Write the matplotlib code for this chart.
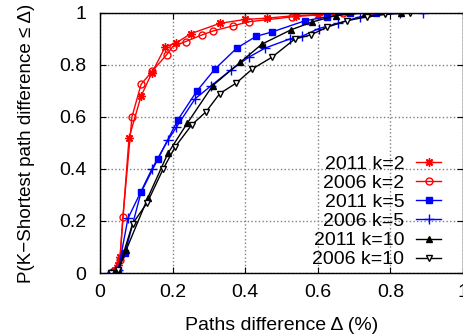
import matplotlib
matplotlib.use("Agg")
import matplotlib.pyplot as plt

plt.rcParams['font.family'] = ['Liberation Sans', 'DejaVu Sans']

# values
k2_2011_x = [0.03, 0.04, 0.05, 0.055, 0.08, 0.113, 0.143, 0.18, 0.21, 0.25, 0.33, 0.40, 0.46, 0.54, 0.60, 0.74]
k2_2011_y = [0.0, 0.01, 0.03, 0.06, 0.52, 0.68, 0.77, 0.87, 0.885, 0.92, 0.96, 0.975, 0.98, 0.99, 0.993, 1.0]

k2_2006_x = [0.03, 0.045, 0.055, 0.063, 0.088, 0.113, 0.143, 0.184, 0.20, 0.236, 0.28, 0.31, 0.365, 0.41, 0.53, 0.67, 0.74]
k2_2006_y = [0.0, 0.01, 0.05, 0.215, 0.60, 0.725, 0.775, 0.84, 0.87, 0.89, 0.915, 0.93, 0.95, 0.966, 0.985, 1.0, 1.0]

k5_2011_x = [0.03, 0.05, 0.069, 0.113, 0.16, 0.215, 0.267, 0.317, 0.377, 0.43, 0.474, 0.565, 0.625, 0.69, 0.76]
k5_2011_y = [0.0, 0.01, 0.077, 0.31, 0.44, 0.59, 0.70, 0.785, 0.865, 0.91, 0.927, 0.97, 0.985, 1.0, 1.0]

k5_2006_x = [0.03, 0.05, 0.077, 0.143, 0.187, 0.21, 0.262, 0.306, 0.36, 0.41, 0.455, 0.523, 0.556, 0.603, 0.655, 0.716, 0.826, 0.89]
k5_2006_y = [0.0, 0.01, 0.21, 0.40, 0.51, 0.56, 0.67, 0.72, 0.78, 0.83, 0.865, 0.90, 0.91, 0.94, 0.96, 0.985, 1.0, 1.0]

k10_2011_x = [0.03, 0.05, 0.072, 0.132, 0.187, 0.24, 0.31, 0.386, 0.446, 0.526, 0.584, 0.65, 0.73, 0.83]
k10_2011_y = [0.0, 0.01, 0.088, 0.29, 0.46, 0.575, 0.72, 0.81, 0.88, 0.935, 0.965, 0.99, 1.0, 1.0]

k10_2006_x = [0.03, 0.05, 0.09, 0.13, 0.174, 0.207, 0.253, 0.292, 0.33, 0.375, 0.42, 0.474, 0.537, 0.58, 0.625, 0.68, 0.735, 0.785, 0.855]
k10_2006_y = [0.0, 0.01, 0.19, 0.27, 0.40, 0.485, 0.57, 0.62, 0.69, 0.73, 0.785, 0.83, 0.90, 0.915, 0.945, 0.97, 0.985, 0.995, 1.0]

ticks = [0, 0.2, 0.4, 0.6, 0.8, 1]
tick_labels = ['0', '0.2', '0.4', '0.6', '0.8', '1']

fig = plt.figure(figsize=(4.63, 3.36), dpi=100)
ax = fig.add_axes([0.216, 0.1875, 0.784, 0.774])

ax.plot(k2_2011_x, k2_2011_y, color='red', lw=1, marker=(8, 2, 0), ms=6, mew=1, label='2011 k=2')
ax.plot(k2_2006_x, k2_2006_y, color='red', lw=1, marker='o', ms=5, mfc='none', mew=1, label='2006 k=2')
ax.plot(k5_2011_x, k5_2011_y, color='blue', lw=1, marker='s', ms=5, label='2011 k=5')
ax.plot(k5_2006_x, k5_2006_y, color='blue', lw=1, marker='+', ms=6.5, mew=1, label='2006 k=5')
ax.plot(k10_2011_x, k10_2011_y, color='black', lw=1, marker='^', ms=4, label='2011 k=10')
ax.plot(k10_2006_x, k10_2006_y, color='black', lw=1, marker='v', ms=4.5, mfc='white', mew=1, label='2006 k=10')

ax.set_xlim(0, 1)
ax.set_ylim(0, 1)
ax.set_xticks(ticks)
ax.set_xticklabels(tick_labels)
ax.set_yticks(ticks)
ax.set_yticklabels(tick_labels)
ax.tick_params(direction='in', top=True, right=True, labelsize=14, length=4)
ax.tick_params(axis='x', pad=8)
ax.tick_params(axis='y', pad=10)
ax.grid(True, color='gray', linestyle=':', linewidth=1)
for s in ax.spines.values():
    s.set_linewidth(1)

ax.set_xlabel('Paths difference \u0394 (%)', fontsize=14)
ax.set_ylabel('P(K\u2212Shortest path difference \u2264 \u0394)', fontsize=13.5)
ax.xaxis.set_label_coords(0.5, -0.17)
ax.yaxis.set_label_coords(-0.18, 0.5)

leg = ax.legend(loc='lower right', bbox_to_anchor=(0.978, -0.035), frameon=False, fontsize=14,
                markerfirst=False, numpoints=1, handlelength=1.3, handletextpad=0.6,
                labelspacing=0.08, borderpad=0.2)
for t in leg.get_texts():
    t.set_ha('right')

fig.savefig('out.png', dpi=100)
